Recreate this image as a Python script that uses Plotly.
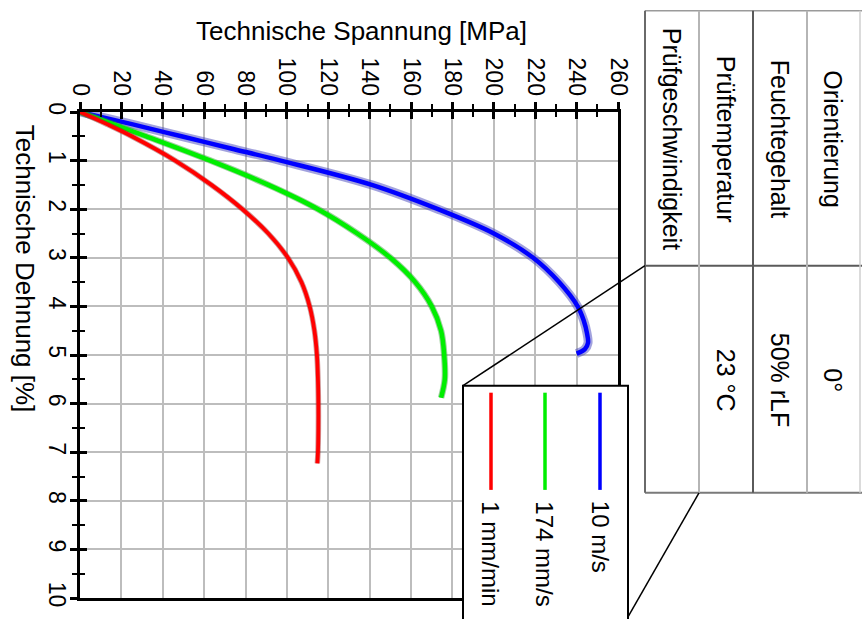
import plotly.graph_objects as go

# ---------------- data ----------------
series_names = ["10 m/s", "174 mm/s", "1 mm/min"]
series_colors = ["#0000ff", "#00ee00", "#ff0000"]

strain_blue = [0, 0.25, 0.5, 0.75, 1.0, 1.5, 2.0, 2.5, 3.0, 3.5, 4.0, 4.3, 4.55, 4.75, 4.88, 4.97]
stress_blue = [0, 25, 49, 73, 97, 141, 173, 200, 219, 231.5, 240.5, 243.5, 245, 245.5, 244, 240]

strain_green = [0, 0.25, 0.5, 1.0, 1.5, 2.0, 2.5, 3.0, 3.5, 4.0, 4.5, 5.0, 5.5, 5.88]
stress_green = [0, 16, 32, 63, 91, 115, 134, 150, 162, 170, 174.5, 176, 176.3, 174.5]

strain_red = [0, 0.25, 0.5, 1.0, 1.5, 2.0, 2.5, 3.0, 3.5, 4.0, 4.5, 5.0, 5.5, 6.0, 6.5, 7.0, 7.23]
stress_red = [0, 13, 25, 46, 63.5, 78.5, 91, 100.5, 107, 111, 113.3, 114.5, 115, 115.2, 115.2, 115, 114.7]

stress_ticks = list(range(0, 261, 20))
strain_ticks = list(range(0, 11, 1))

table_headers = ["Orientierung", "Feuchtegehalt", "Prüftemperatur", "Prüfgeschwindigkeit"]
table_values = ["0°", "50% rLF", "23 °C", ""]

x_title = "Technische Spannung [MPa]"
y_title = "Technische Dehnung [%]"

# ---------------- layout geometry (pixels) ----------------
W, H = 868, 619
L, R, T, B = 80, 618, 112, 602


def px(X):
    return (X - L) / (R - L)


def py(Y):
    return (B - Y) / (B - T)


FONT = "Liberation Sans, Arial, sans-serif"
FS = 24

fig = go.Figure()

# blue band + line
fig.add_trace(go.Scatter(x=stress_blue, y=strain_blue, mode="lines",
                         line=dict(color="rgba(70,70,190,0.5)", width=9, shape="spline"),
                         showlegend=False, hoverinfo="skip"))
fig.add_trace(go.Scatter(x=stress_blue, y=strain_blue, mode="lines", name=series_names[0],
                         line=dict(color=series_colors[0], width=4.5, shape="spline"), showlegend=False))
fig.add_trace(go.Scatter(x=stress_green, y=strain_green, mode="lines",
                         line=dict(color="rgba(40,150,40,0.45)", width=6.5, shape="spline"),
                         showlegend=False, hoverinfo="skip"))
fig.add_trace(go.Scatter(x=stress_green, y=strain_green, mode="lines", name=series_names[1],
                         line=dict(color=series_colors[1], width=4.5, shape="spline"), showlegend=False))
fig.add_trace(go.Scatter(x=stress_red, y=strain_red, mode="lines",
                         line=dict(color="rgba(150,30,30,0.45)", width=5.5, shape="spline"),
                         showlegend=False, hoverinfo="skip"))
fig.add_trace(go.Scatter(x=stress_red, y=strain_red, mode="lines", name=series_names[2],
                         line=dict(color=series_colors[2], width=3.8, shape="spline"), showlegend=False))

# invisible trace on overlay axes (for inside ticks)
fig.add_trace(go.Scatter(x=[0], y=[0], xaxis="x2", yaxis="y2", mode="markers",
                         marker=dict(opacity=0), showlegend=False, hoverinfo="skip"))

tickfont = dict(family=FONT, size=23, color="black")

fig.update_layout(
    width=W, height=H,
    margin=dict(l=L, r=W - R, t=T, b=H - B, pad=0),
    paper_bgcolor="white", plot_bgcolor="white",
    showlegend=False,
    xaxis=dict(side="top", range=[0, 260], tickvals=stress_ticks, ticktext=[str(v) for v in stress_ticks],
               tickangle=90, tickfont=tickfont, ticklabelstandoff=-2,
               showgrid=True, gridcolor="#bdbdbd", gridwidth=2,
               showline=True, linecolor="black", linewidth=3, mirror=True,
               ticks="outside", ticklen=7, tickwidth=2.5, tickcolor="black",
               minor=dict(dtick=10, ticks="outside", ticklen=5, tickwidth=2, tickcolor="black", showgrid=False),
               zeroline=False, fixedrange=True),
    yaxis=dict(range=[10, 0], tickvals=strain_ticks, ticktext=[str(v) for v in strain_ticks],
               tickangle=90, tickfont=tickfont, ticklabelstandoff=-7,
               showgrid=True, gridcolor="#bdbdbd", gridwidth=2,
               showline=True, linecolor="black", linewidth=3, mirror=True,
               ticks="outside", ticklen=7, tickwidth=2.5, tickcolor="black",
               minor=dict(dtick=0.5, ticks="outside", ticklen=5, tickwidth=2, tickcolor="black", showgrid=False),
               zeroline=False, fixedrange=True),
    xaxis2=dict(overlaying="x", side="top", range=[0, 260], tickvals=stress_ticks, showticklabels=False,
                showgrid=False, zeroline=False, showline=False,
                ticks="inside", ticklen=7, tickwidth=2.5, tickcolor="black",
                minor=dict(dtick=10, ticks="inside", ticklen=5, tickwidth=2, tickcolor="black")),
    yaxis2=dict(overlaying="y", side="left", range=[10, 0], tickvals=strain_ticks, showticklabels=False,
                showgrid=False, zeroline=False, showline=False,
                ticks="inside", ticklen=7, tickwidth=2.5, tickcolor="black",
                minor=dict(dtick=0.5, ticks="inside", ticklen=5, tickwidth=2, tickcolor="black")),
)

shapes = []
annotations = []

# axis titles
annotations.append(dict(x=px(361), y=py(30), xref="paper", yref="paper", text=x_title, showarrow=False,
                        font=dict(family=FONT, size=26, color="black"), xanchor="center", yanchor="middle"))
annotations.append(dict(x=px(25), y=py(270), xref="paper", yref="paper", text=y_title, showarrow=False,
                        textangle=90, font=dict(family=FONT, size=26, color="black"),
                        xanchor="center", yanchor="middle"))

# ---------------- table ----------------
col_edges = [860, 807, 753, 699, 645]  # right to left: Orientierung, Feuchte, Temp, Geschw.
row_top, row_mid, row_bot = 10, 267, 496


def line(x0, y0, x1, y1, color, width):
    shapes.append(dict(type="line", xref="paper", yref="paper", x0=px(x0), y0=py(y0), x1=px(x1), y1=py(y1),
                       line=dict(color=color, width=width), layer="above"))


line(645, row_top, 862, row_top, "#9a9a9a", 1.5)
line(645, row_mid, 862, row_mid, "#5a5a5a", 2)
line(645, row_bot, 862, row_bot, "#7a7a7a", 2)
line(645, row_top, 645, row_bot, "#6a6a6a", 2)
line(699, row_top, 699, row_bot, "#b5b5b5", 2)
line(753, row_top, 753, row_bot, "#5a5a5a", 2)
line(807, row_top, 807, row_bot, "#b5b5b5", 2)
line(860, row_top, 860, row_bot, "#cfcfcf", 1.5)

for i, (hdr, val) in enumerate(zip(table_headers, table_values)):
    cx = (col_edges[i] + col_edges[i + 1]) / 2
    annotations.append(dict(x=px(cx), y=py(139), xref="paper", yref="paper",
                            text=hdr, showarrow=False, textangle=90,
                            font=dict(family=FONT, size=25, color="black"),
                            xanchor="center", yanchor="middle"))
    if val:
        annotations.append(dict(x=px(cx), y=py(382), xref="paper", yref="paper",
                                text=val, showarrow=False, textangle=90,
                                font=dict(family=FONT, size=25, color="black"),
                                xanchor="center", yanchor="middle"))

# ---------------- legend box ----------------
shapes.append(dict(type="rect", xref="paper", yref="paper", x0=px(463), y0=py(388), x1=px(628), y1=py(640),
                   fillcolor="white", line=dict(color="black", width=2), layer="above"))
# connector lines
line(645, row_mid, 463, 388, "black", 1.5)
line(699, row_bot, 628, 621, "black", 1.5)

legend_x = [600, 545, 491]
for name, color, lx in zip(series_names, series_colors, legend_x):
    line(lx, 395, lx, 493, color, 3.5)
    annotations.append(dict(x=px(lx), y=py(502), xref="paper", yref="paper", text=name, showarrow=False,
                            textangle=90, font=dict(family=FONT, size=FS, color="black"),
                            xanchor="center", yanchor="top"))

fig.update_layout(shapes=shapes, annotations=annotations)

fig.write_html("out.html", config={"displayModeBar": False},
               post_script="document.body.style.margin='0px';")
